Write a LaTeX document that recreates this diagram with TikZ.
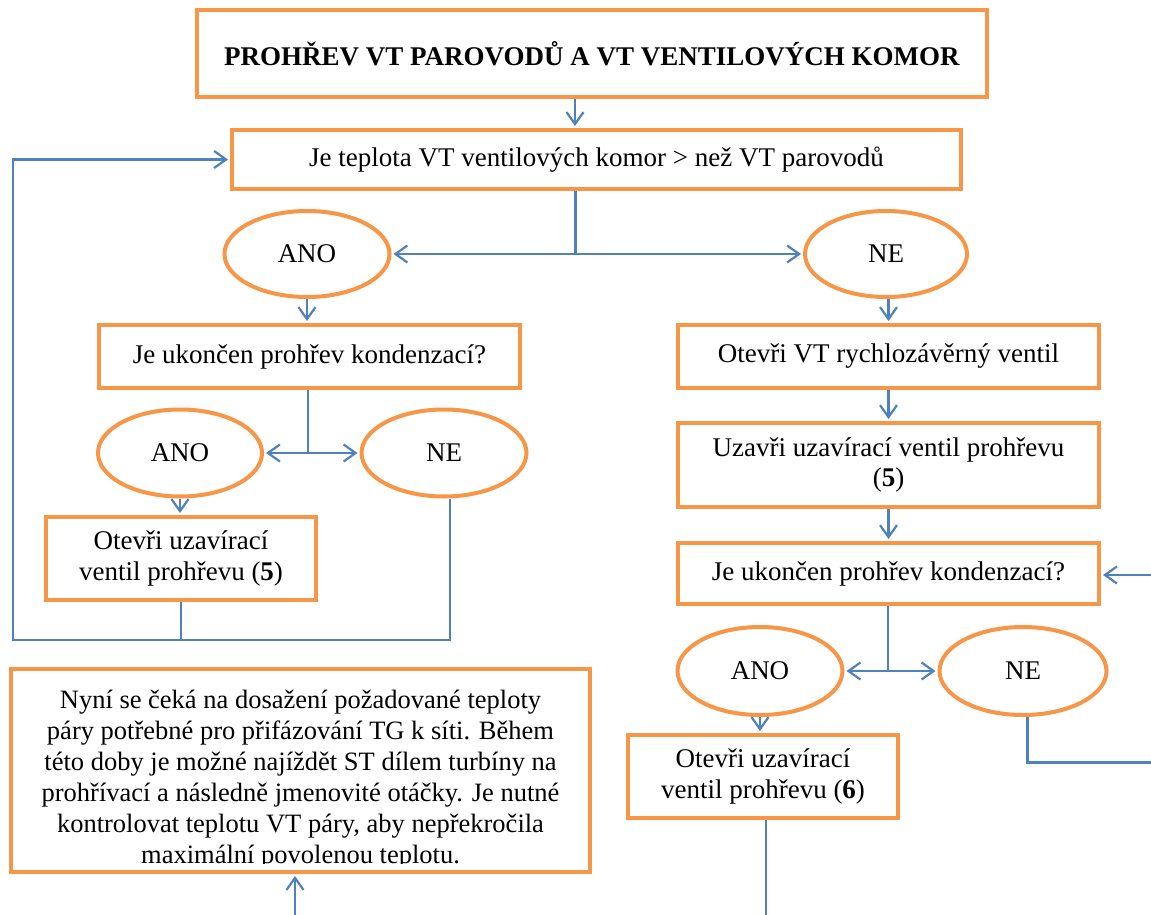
\documentclass[tikz,border=0pt]{standalone}
\usepackage{fontspec}
\setmainfont{Liberation Serif}
\usetikzlibrary{arrows.meta,shapes.geometric,calc}
\definecolor{boxor}{HTML}{F79646}
\definecolor{lnblue}{HTML}{4F81BD}
\begin{document}
\begin{tikzpicture}[x=1pt,y=-1pt,
  font=\fontsize{27}{30.5}\selectfont,
  box/.style={draw=boxor, line width=4pt, rectangle, inner sep=0pt, align=center},
  oval/.style={draw=boxor, line width=4pt, ellipse, inner sep=0pt},
  ln/.style={draw=lnblue, line width=2.2pt},
  arr/.style={ln, shorten >=2pt, -{Straight Barb[length=12pt,width=17pt]}}]
\useasboundingbox[fill=white] (0,0) rectangle (1151,915);

% nodes
\node[box, minimum width=790pt, minimum height=87pt] (title) at (592,53.5) {\textbf{PROHŘEV VT PAROVODŮ A VT VENTILOVÝCH KOMOR}};
\node[box, minimum width=729pt, minimum height=59pt] (q1) at (596.5,159.5) {Je teplota VT ventilových komor > než VT parovodů};
\node[oval, minimum width=165pt, minimum height=86pt] (ano1) at (307,254) {ANO};
\node[oval, minimum width=162pt, minimum height=86pt] (ne1) at (886,254) {NE};
\node[box, minimum width=421pt, minimum height=63pt] (q2) at (309.5,356.5) {Je ukončen prohřev kondenzací?};
\node[oval, minimum width=164pt, minimum height=87pt] (ano2) at (180,453) {ANO};
\node[oval, minimum width=165pt, minimum height=87pt] (ne2) at (444,453) {NE};
\node[box, minimum width=270pt, minimum height=83pt] (o5) at (181,558.5) {Otevři uzavírací\\ventil prohřevu (\textbf{5})};
\node[box, minimum width=421pt, minimum height=63pt] (r1) at (888.5,356.5) {Otevři VT rychlozávěrný ventil};
\node[box, minimum width=421pt, minimum height=84pt] (r2) at (888.5,465) {Uzavři uzavírací ventil prohřevu\\(\textbf{5})};
\node[box, minimum width=421pt, minimum height=61pt] (r3) at (888.5,573.5) {Je ukončen prohřev kondenzací?};
\node[oval, minimum width=165pt, minimum height=88pt] (ano3) at (760,671) {ANO};
\node[oval, minimum width=167pt, minimum height=88pt] (ne3) at (1023,671) {NE};
\node[box, minimum width=270pt, minimum height=83pt] (o6) at (763,776.5) {Otevři uzavírací\\ventil prohřevu (\textbf{6})};

\begin{scope}
\clip (11,669) rectangle (590,863);
\node[anchor=north, inner sep=0pt, align=center, font=\fontsize{26.5}{31}\selectfont] (btext) at (300.5,690) {Nyní se čeká na dosažení požadované teploty\\ páry potřebné pro přifázování TG k síti. Během\\ této doby je možné najíždět ST dílem turbíny na\\ prohřívací a následně jmenovité otáčky. Je nutné\\ kontrolovat teplotu VT páry, aby nepřekročila\\ maximální povolenou teplotu.};
\end{scope}
\node[box, minimum width=579pt, minimum height=203pt] (bottom) at (300.5,770.5) {};

% connectors
\coordinate (c1) at (575,0);
\draw[arr] (title.south -| c1) -- (q1.north -| c1);
\coordinate (j1) at (575,254);
\draw[ln, line width=3pt] (q1.south -| c1) -- (j1);
\draw[arr] (j1) -- (ano1.east);
\draw[arr] (j1) -- (ne1.west);
\draw[arr] (ano1.south) -- (ano1.south |- q2.north);
\coordinate (j2) at (308,453);
\draw[ln] (q2.south -| j2) -- (j2);
\draw[arr] (j2) -- (ano2.east);
\draw[arr] (j2) -- (ne2.west);
\draw[arr] (ano2.south) -- (ano2.south |- o5.north);
\coordinate (L) at (13,640);
\draw[arr] (o5.south) |- (L) |- (q1.west);
\coordinate (n2) at (450,0);
\draw[ln] (ne2.south -| n2) |- (o5.south |- L);

\draw[arr] (r1.north |- ne1.south) -- (r1.north);
\draw[arr] (r1.south) -- (r2.north);
\draw[arr] (r2.south) -- (r3.north);
\coordinate (j3) at (888,671);
\draw[ln] (r3.south -| j3) -- (j3);
\draw[arr] (j3) -- (ano3.east);
\draw[arr] (j3) -- (ne3.west);
\draw[arr] (ano3.south) -- (ano3.south |- o6.north);
\coordinate (B1) at (766,915);
\draw[ln] (o6.south -| B1) -- (B1);
\coordinate (n3) at (1027,0);
\coordinate (R1) at (1151,762);
\draw[ln, line width=3pt] (ne3.south -| n3) |- (R1);
\coordinate (R2) at (1151,575);
\draw[arr] (R2) -- (R2 -| r3.east);
\coordinate (B2) at (295,915);
\draw[arr] (B2) -- (B2 |- bottom.south);
\end{tikzpicture}
\end{document}
